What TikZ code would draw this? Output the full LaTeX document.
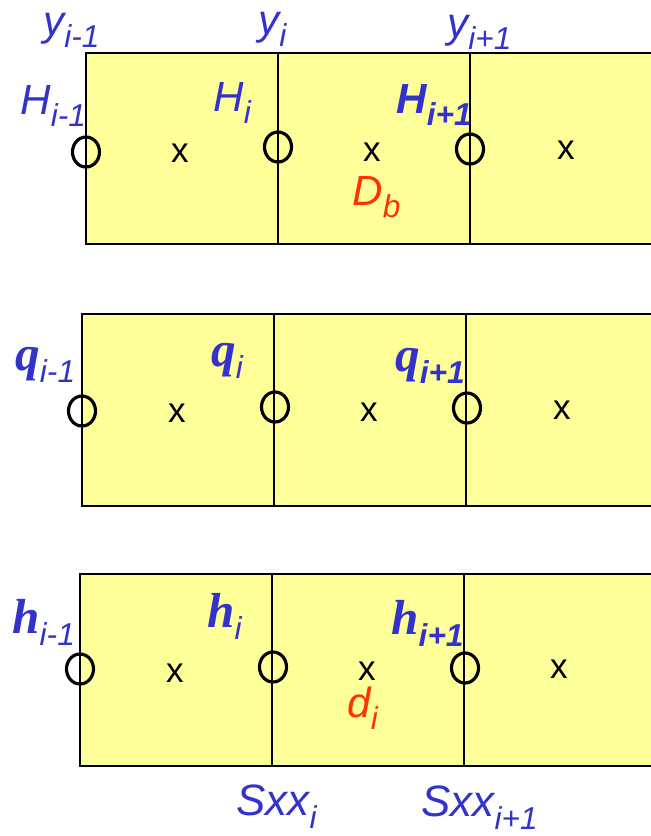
\documentclass[tikz,border=0pt]{standalone}
\usepackage{fontspec}
\setmainfont{Liberation Sans}
\newfontfamily\tmsfont{Liberation Serif}
\definecolor{cellfill}{RGB}{255,255,153}
\definecolor{lblblue}{RGB}{51,51,204}
\definecolor{lblred}{RGB}{255,51,0}
\newcommand{\sublbl}[2]{#1\raisebox{-0.3em}{\fontsize{18}{20}\selectfont #2}}
\newcommand{\tmsbf}[1]{{\fontsize{28}{32}\selectfont\tmsfont\bfseries\itshape #1}}

\begin{document}
\begin{tikzpicture}[x=0.02cm,y=-0.02cm,
  lbl/.style={lblblue,font=\fontsize{24}{28}\selectfont\itshape,inner sep=0pt,anchor=base west},
  boldlbl/.style={lbl,font=\fontsize{24}{28}\selectfont\itshape\bfseries},
  redlbl/.style={lbl,lblred},
  cellmark/.style={font=\fontsize{20}{24}\selectfont,inner sep=0pt},
  facering/.style={line width=1.8pt}]
 \clip (0,0) rectangle (651,836);
 % three rows of cells
 \foreach \l/\t/\b in {86/53/244,82/314/506,80/574/766} {
  \fill[cellfill] (\l,\t) rectangle (660,\b);
  \draw[line width=0.6pt] (660,\t) -- (\l,\t) -- (\l,\b) -- (660,\b);
  \draw[line width=0.6pt] (\l+192,\t) -- (\l+192,\b) (\l+384,\t) -- (\l+384,\b);
 }
 % faces
 \foreach \x/\y in {86/152,278/147,470/149,82/411,275/407,467/408,80/669,273/667,465/668}
  \draw[facering] (\x,\y) ellipse[x radius=13.5,y radius=15];
 % cell centres
 \foreach \x/\y [count=\k] in {180/153,372/152,566/150,177/413,369/412,562/410,175/673,367/671,559/669}
  \node[cellmark] (c\k) at (\x,\y) {x};
 % labels
 \node[lbl] (y0) at (43,35) {\sublbl{y}{i-1}};
 \node[lbl] (y1) at (258,34) {\sublbl{y}{i}};
 \node[lbl] (y2) at (447,37) {\sublbl{y}{i+1}};
 \node[lbl] (H0) at (20,114) {\sublbl{H}{i-1}};
 \node[lbl] (H1) at (213,111) {\sublbl{H}{i}};
 \node[boldlbl] (H2) at (396,113) {\sublbl{H}{i+1}};
 \node[redlbl] (Db) at (352,205) {\sublbl{D}{b}};
 \node[lbl] (q0) at (15,370) {\sublbl{\tmsbf{q}}{i-1}};
 \node[lbl] (q1) at (211,366) {\sublbl{\tmsbf{q}}{i}};
 \node[boldlbl] (q2) at (395,371) {\sublbl{\tmsbf{q}}{i+1}};
 \node[lbl] (h0) at (12,633) {\sublbl{\tmsbf{h}}{i-1}};
 \node[lbl] (h1) at (207,627) {\sublbl{\tmsbf{h}}{i}};
 \node[boldlbl] (h2) at (391,634) {\sublbl{\tmsbf{h}}{i+1}};
 \node[redlbl] (di) at (347,717) {\sublbl{d}{i}};
 \node[lbl,font=\fontsize{25}{29}\selectfont\itshape] (S1) at (236,815) {\sublbl{Sxx}{i}};
 \node[lbl,font=\fontsize{25}{29}\selectfont\itshape] (S2) at (421,816) {\sublbl{Sxx}{i+1}};
\end{tikzpicture}
\end{document}
